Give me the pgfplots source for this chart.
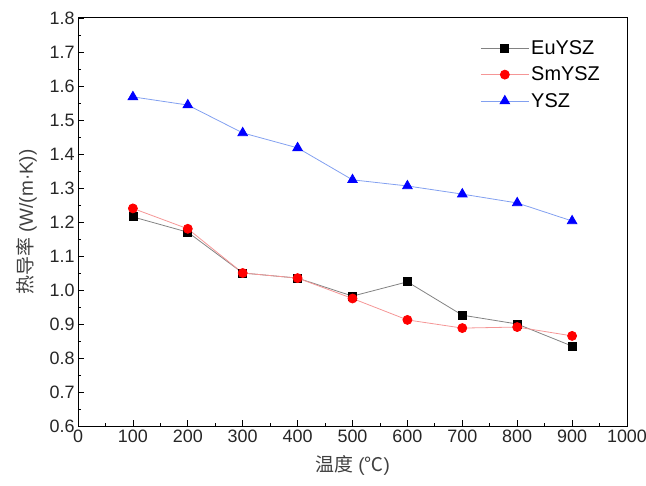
\documentclass[border=0pt]{standalone}
\usepackage{pgfplots}
\pgfplotsset{compat=1.18}
\usepackage{fontspec}
\setmainfont{Liberation Sans}
\newfontfamily\cjk{Noto Sans CJK SC}
\definecolor{euline}{RGB}{130,130,130}
\definecolor{smline}{RGB}{245,150,150}
\definecolor{ysline}{RGB}{130,160,240}
\begin{document}
\begin{tikzpicture}
\path[use as bounding box] (-78bp,-60bp) rectangle (568bp,426bp);
\begin{axis}[
  scale only axis, width=549bp, height=408bp,
  xmin=0, xmax=1000, ymin=0.6, ymax=1.8,
  xtick={0,100,...,1000}, ytick={0.6,0.7,...,1.8},
  minor x tick num=1, minor y tick num=1,
  tick pos=left, tick align=inside,
  major tick length=6bp, minor tick length=3.5bp,
  axis line style={line width=1pt}, every tick/.style={black, line width=0.8pt},
  /pgf/number format/assume math mode=true,
  yticklabel style={/pgf/number format/fixed, /pgf/number format/fixed zerofill, /pgf/number format/precision=1},
  xticklabel style={/pgf/number format/1000 sep={}},
  tick label style={font=\fontsize{18}{20}\selectfont, text=black!85},
  xlabel={{\cjk 温度} ({\cjk ℃})}, ylabel={{\cjk 热导率} (W/(m·K))},
  label style={font=\fontsize{19}{22}\selectfont, text=black!75},
  xlabel style={yshift=-6bp}, ylabel style={yshift=6bp},
  legend style={draw=none, fill=none, at={(0.96,0.955)}, anchor=north east, font=\fontsize{20}{22}\selectfont, row sep=7bp},
  legend cell align=left,
  legend image code/.code={\draw[mark repeat=2,mark phase=2] plot coordinates {(0bp,0bp)(24bp,0bp)(48bp,0bp)};},
]
\addplot[euline, line width=0.8pt, mark=square*, mark size=4bp, mark options={fill=black, draw=black}] coordinates {
(100,1.215)(200,1.170)(300,1.050)(400,1.035)(500,0.982)(600,1.024)(700,0.926)(800,0.900)(900,0.835)};
\addlegendentry{EuYSZ}
\addplot[smline, line width=0.8pt, mark=*, mark size=4.5bp, mark options={fill=red, draw=red}] coordinates {
(100,1.240)(200,1.180)(300,1.050)(400,1.035)(500,0.975)(600,0.912)(700,0.888)(800,0.891)(900,0.865)};
\addlegendentry{SmYSZ}
\addplot[ysline, line width=0.8pt, mark=triangle*, mark size=5.5bp, mark options={fill=blue, draw=blue}] coordinates {
(100,1.568)(200,1.544)(300,1.462)(400,1.418)(500,1.324)(600,1.306)(700,1.282)(800,1.256)(900,1.203)};
\addlegendentry{YSZ}
\end{axis}
\end{tikzpicture}
\end{document}
